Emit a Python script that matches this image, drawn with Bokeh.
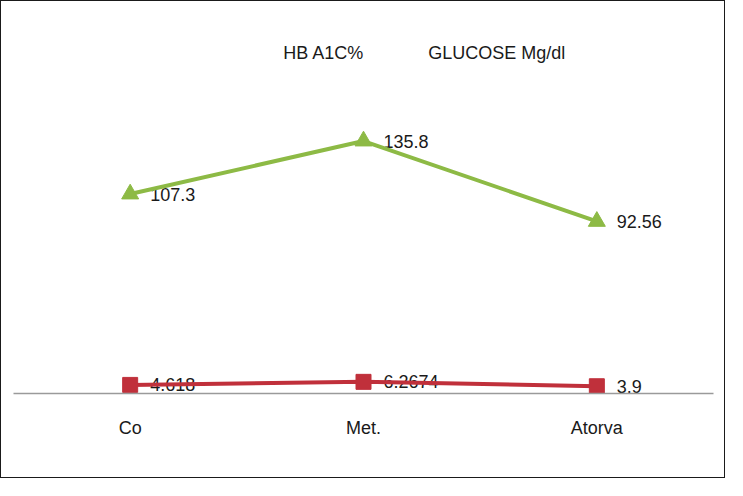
from bokeh.plotting import figure
from bokeh.models import Range1d, FixedTicker, Label, ColumnDataSource
from bokeh.core.properties import value
from bokeh.embed import file_html
from bokeh.resources import INLINE

categories = ["Co", "Met.", "Atorva"]
hba1c = [4.618, 6.2674, 3.9]
glucose = [107.3, 135.8, 92.56]
legend_labels = ["HB A1C%", "GLUCOSE Mg/dl"]

xs = list(range(len(categories)))
FONT = "Liberation Sans"
RED = "#C0303B"
GREEN = "#8DBA45"

p = figure(width=725, height=478, output_backend="svg", toolbar_location=None,
           x_range=Range1d(-0.5, 2.5), y_range=Range1d(0, 206),
           y_axis_location=None, min_border_left=12, min_border_right=13,
           min_border_top=9, min_border_bottom=86,
           styles={"border": "1px solid #1a1a1a"})
p.outline_line_color = None
p.grid.visible = False
p.background_fill_color = "white"
p.border_fill_color = "white"

ax = p.xaxis[0]
ax.ticker = FixedTicker(ticks=xs)
ax.major_label_overrides = {i: c for i, c in enumerate(categories)}
ax.major_tick_line_color = None
ax.minor_tick_line_color = None
ax.axis_line_color = "#9A9A9A"
ax.axis_line_width = 1.5
ax.major_label_standoff = 18
ax.major_label_text_font = FONT
ax.major_label_text_font_size = "18px"
ax.major_label_text_color = "#1a1a1a"

src = ColumnDataSource(dict(x=xs, hb=hba1c, gl=glucose,
                            hbt=[str(v) for v in hba1c],
                            glt=[str(v) for v in glucose]))

# data labels (drawn below lines)
p.text(x="x", y="hb", text="hbt", source=src, x_offset=20, y_offset=0,
       text_font=value(FONT), text_font_size="18px", text_color="#1a1a1a",
       text_baseline="middle", text_align="left")
p.text(x="x", y="gl", text="glt", source=src, x_offset=20, y_offset=0,
       text_font=value(FONT), text_font_size="18px", text_color="#1a1a1a",
       text_baseline="middle", text_align="left")

p.line(x="x", y="hb", source=src, line_color=RED, line_width=4)
p.scatter(x="x", y="hb", source=src, marker="square", size=15,
          fill_color=RED, line_color=RED)
p.line(x="x", y="gl", source=src, line_color=GREEN, line_width=4)
p.scatter(x="x", y="gl", source=src, marker="triangle", size=17,
          fill_color=GREEN, line_color=GREEN)

for lx, txt in zip([0.656, 1.277], legend_labels):
    p.add_layout(Label(x=lx, y=183.4, text=txt, text_font=FONT,
                       text_font_size="18px", text_color="#1a1a1a",
                       text_baseline="middle", text_align="left"))

open("out.html", "w").write(file_html(p, INLINE))
